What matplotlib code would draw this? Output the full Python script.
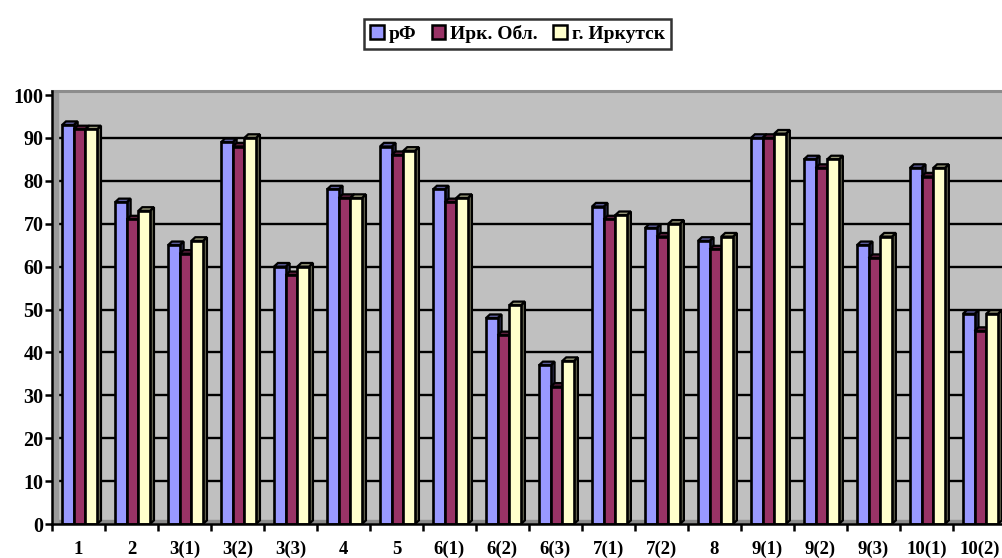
import matplotlib
matplotlib.use('Agg')
import matplotlib.pyplot as plt
import matplotlib.colors as mcolors
import numpy as np

# categories and values
categories = ['1', '2', '3(1)', '3(2)', '3(3)', '4', '5', '6(1)', '6(2)', '6(3)',
              '7(1)', '7(2)', '8', '9(1)', '9(2)', '9(3)', '10(1)', '10(2)']
series_names = ['рФ', 'Ирк. Обл.', 'г. Иркутск']
rf_values = [93, 75, 65, 89, 60, 78, 88, 78, 48, 37, 74, 69, 66, 90, 85, 65, 83, 49]
irk_obl_values = [92, 71, 63, 88, 58, 76, 86, 75, 44, 32, 71, 67, 64, 90, 83, 62, 81, 45]
irkutsk_values = [92, 73, 66, 90, 60, 76, 87, 76, 51, 38, 72, 70, 67, 91, 85, 67, 83, 49]
y_ticks = list(range(0, 101, 10))

series_values = [rf_values, irk_obl_values, irkutsk_values]
colors = ['#9999FF', '#993366', '#FFFFCC']

plt.rcParams['font.family'] = ['Liberation Serif', 'DejaVu Serif']
plt.rcParams['font.weight'] = 'bold'

fig = plt.figure(figsize=(10.03, 5.58), dpi=100)
ax = fig.add_axes([0.0518, 0.0609, 0.951, 0.7765])

x = np.arange(len(categories))
bar_w = 0.22
dx, dy = 0.075, 0.85  # pseudo 3D depth

ax.set_xlim(-0.5, len(categories) - 0.5)
ax.set_ylim(0, 101)
ax.set_facecolor('#C0C0C0')

# back wall gridlines, floor and left wall
for t in y_ticks[1:-1]:
    ax.axhline(t, color='black', lw=1.7, zorder=1)
ax.axhspan(0, dy, color='#8C8C8C', zorder=1.5)
ax.axvspan(-0.5, -0.5 + dx * 1.4, color='#9A9A9A', zorder=1.5)


def darker(c, f):
    r, g, b = mcolors.to_rgb(c)
    return (r * f, g * f, b * f)


z = 2
for i in range(len(categories)):
    for k in range(3):
        h = series_values[k][i]
        x0 = x[i] + (k - 1) * bar_w - bar_w / 2 + 0.02
        x1 = x0 + bar_w
        # side face
        ax.fill([x1, x1, x1 + dx, x1 + dx], [0, h, h + dy, dy],
                facecolor=darker(colors[k], 0.45), edgecolor='black', lw=1.6, zorder=z)
        # top face
        ax.fill([x0, x0 + dx, x1 + dx, x1], [h, h + dy, h + dy, h],
                facecolor=darker(colors[k], 0.6), edgecolor='black', lw=1.6, zorder=z)
        ax.bar(x0, h, width=bar_w, align='edge', color=colors[k],
               edgecolor='black', lw=1.9, zorder=z + 0.5,
               label=series_names[k] if i == 0 else None)
        z += 1

# axes styling
ax.spines['right'].set_visible(False)
ax.spines['top'].set_color('#8C8C8C')
ax.spines['top'].set_linewidth(2.2)
ax.spines['left'].set_linewidth(1.8)
ax.spines['bottom'].set_linewidth(1.8)
ax.spines['left'].set_zorder(200)
ax.spines['bottom'].set_zorder(200)

ax.set_yticks(y_ticks)
ax.set_yticklabels([str(t) for t in y_ticks], fontsize=14.5, fontweight='bold')
ax.tick_params(axis='y', direction='out', length=5, width=1.8, pad=1)

ax.set_xticks(np.arange(-0.5, len(categories), 1.0))
ax.set_xticklabels([])
ax.tick_params(axis='x', which='major', direction='out', length=5, width=1.8)
ax.set_xticks(x, minor=True)
ax.set_xticklabels(categories, minor=True, fontsize=13.5, fontweight='bold')
ax.tick_params(axis='x', which='minor', length=0, pad=12)

leg = fig.legend(loc='upper center', bbox_to_anchor=(0.516, 0.966), ncol=3,
                 frameon=True, fancybox=False, edgecolor='black',
                 prop={'weight': 'bold', 'size': 14},
                 handlelength=0.7, handleheight=0.7, handletextpad=0.25,
                 columnspacing=0.8, borderpad=0.3, borderaxespad=0)
leg.get_frame().set_linewidth(1.8)
for p in leg.get_patches():
    p.set_linewidth(1.8)

fig.savefig('out.png', dpi=100)
